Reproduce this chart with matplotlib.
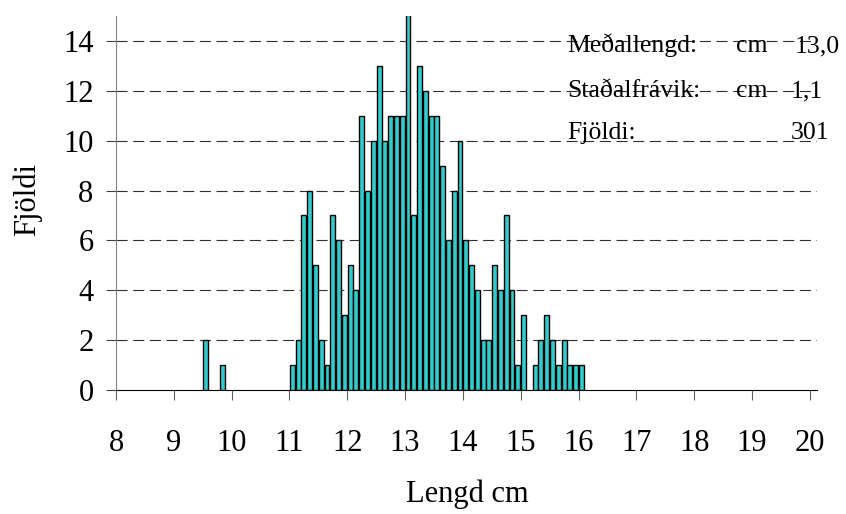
import numpy as np
import matplotlib.pyplot as plt

# length bins (cm, lower edge of 0.1 cm bin) and counts
lengths = [9.5, 9.8,
           11.0, 11.1, 11.2, 11.3, 11.4, 11.5, 11.6, 11.7, 11.8, 11.9,
           12.0, 12.1, 12.2, 12.3, 12.4, 12.5, 12.6, 12.7, 12.8, 12.9,
           13.0, 13.1, 13.2, 13.3, 13.4, 13.5, 13.6, 13.7, 13.8, 13.9,
           14.0, 14.1, 14.2, 14.3, 14.4, 14.5, 14.6, 14.7, 14.8, 14.9,
           15.0, 15.2, 15.3, 15.4, 15.5, 15.6, 15.7, 15.8, 15.9, 16.0]
counts = [2, 1,
          1, 2, 7, 8, 5, 2, 1, 7, 6, 3,
          5, 4, 11, 8, 10, 13, 10, 11, 11, 11,
          18, 7, 13, 12, 11, 11, 9, 6, 8, 10,
          6, 5, 4, 2, 2, 5, 4, 7, 4, 1,
          3, 1, 2, 3, 2, 1, 2, 1, 1, 1]
xticks = list(range(8, 21))
yticks = list(range(0, 15, 2))

stat_labels = ["Meðallengd:", "Staðalfrávik:", "Fjöldi:"]
stat_units = ["cm", "cm", ""]
stat_values = ["13,0", "1,1", "301"]

plt.rcParams['font.family'] = ['Liberation Serif', 'DejaVu Serif']

fig = plt.figure(figsize=(8.46, 5.14), dpi=100)
ax = fig.add_axes([116/846, 1-390/514, 700.7/846, 374/514])

x = np.array(lengths) + 0.05
ax.bar(x, counts, width=0.085, color='#33CCCC', edgecolor='black', linewidth=1.0, zorder=3)

ax.set_xlim(8, 20.12)
ax.set_ylim(0, 15)
ax.set_xticks(xticks)
ax.set_yticks(yticks)

#dashed gridlines, none at the top
for yy in yticks[1:]:
    ax.axhline(yy, color='#303030', linewidth=0.8, linestyle=(0, (10, 5)), zorder=1)

for s in ['top', 'right']:
    ax.spines[s].set_visible(False)
ax.spines['left'].set_color('#808080')
ax.spines['bottom'].set_color('black')
ax.tick_params(axis='x', direction='out', length=7.2, color='#606060', pad=21, labelsize=22)
ax.tick_params(axis='y', direction='out', length=7.2, color='#404040', pad=9, labelsize=22)

fig.text(27/846, 1-200/514, "Fjöldi", rotation=90, ha='center', va='center', fontsize=22)
fig.text(467/846, 1-494/514, "Lengd cm", ha='center', va='center', fontsize=22)

# stats text, top right
ys = [52, 97, 139]
rights = [840, 823, 829]
for lab, unit, val, yy, xr in zip(stat_labels, stat_units, stat_values, ys, rights):
    fig.text(567/846, 1-yy/514, lab, ha='left', va='baseline', fontsize=18.5)
    fig.text(736/846, 1-yy/514, unit, ha='left', va='baseline', fontsize=18.5)
    fig.text(xr/846, 1-yy/514, val, ha='right', va='baseline', fontsize=18.5)

fig.savefig("out.png", dpi=100)
